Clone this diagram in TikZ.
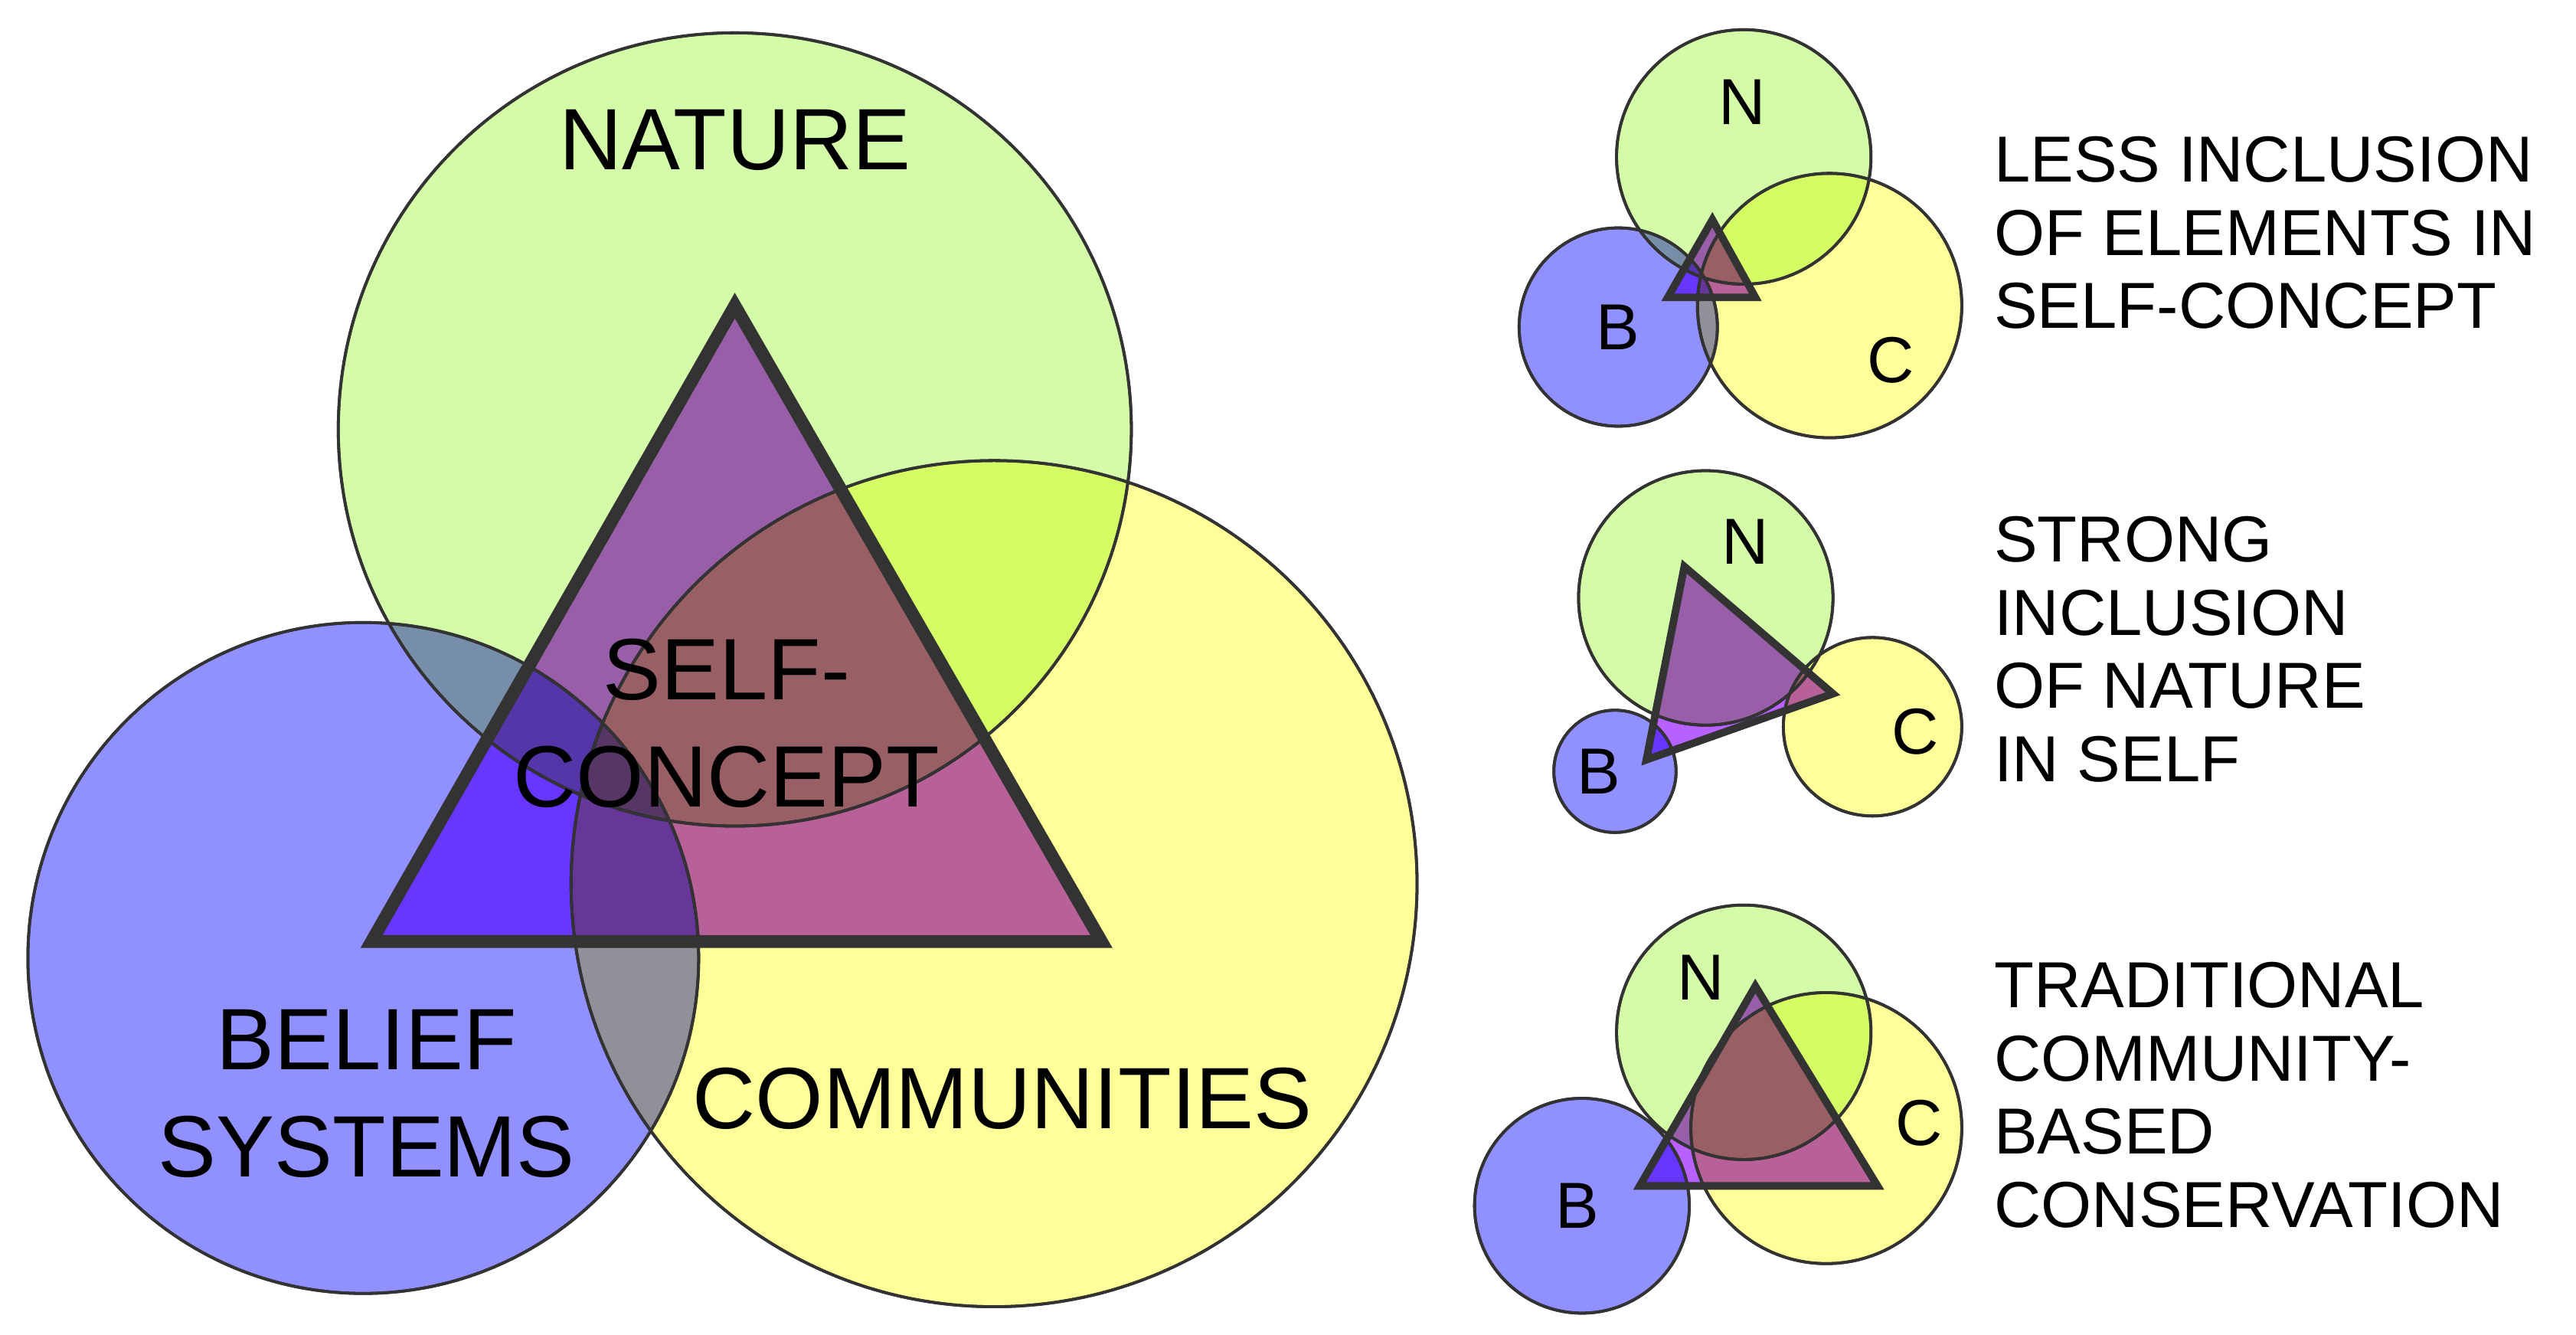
\documentclass[tikz,border=0pt]{standalone}
\usepackage{fontspec}
\setmainfont{Liberation Sans}
\usepackage{tikz}

\begin{document}
\begin{tikzpicture}
		[x=0.01cm,y=-0.01cm,line join=miter,
		%Styles
		ring/.style={draw=black!80,line width=0.5pt},
		nature/.style={ring,fill=natcol},
		belief/.style={ring,fill=belcol},
		community/.style={ring,fill=comcol},
		self/.style={fill=selfcol},
		self line/.style={draw=black!80,line width=#1},
		big text/.style={font=\fontsize{15}{18.5}\selectfont,align=center},
		small text/.style={font=\fontsize{11.2}{12.6}\selectfont},
		side text/.style={font=\fontsize{11.2}{12.6}\selectfont,align=left,anchor=north west,inner sep=0pt}
		]
		
		%Colors
		\definecolor{natcol}{HTML}{D4FCA8}
		\definecolor{belcol}{HTML}{9090FF}
		\definecolor{comcol}{HTML}{FFFF99}
		\definecolor{selfcol}{HTML}{B861FF}
		
		\useasboundingbox (0,0) rectangle (1560,808);
		
		%The big diagram
		\begin{scope}[blend group=multiply]
			\fill[nature] (445,260) circle (2.40cm);
			\fill[belief] (220,580) circle (2.03cm);
			\fill[community] (602,535) circle (2.56cm);
			\fill[self] (445,185) -- (225,570) -- (667,570) -- cycle;
		\end{scope}
		\draw[nature,fill=none] (445,260) circle (2.40cm);
		\draw[belief,fill=none] (220,580) circle (2.03cm);
		\draw[community,fill=none] (602,535) circle (2.56cm);
		\draw[self line=2.2pt] (445,185) -- (225,570) -- (667,570) -- cycle;
		
		\node[big text] (nature) at (445,85) {NATURE};
		\node[big text] (self) at (440,438) {SELF-\\CONCEPT};
		\node[big text] (belief) at (222,662) {BELIEF\\SYSTEMS};
		\node[big text] (comm) at (607,665) {COMMUNITIES};
		
		%Less inclusion
		\begin{scope}[blend group=multiply]
			\fill[nature] (1056,95) circle (0.77cm);
			\fill[belief] (980,198) circle (0.60cm);
			\fill[community] (1108,185) circle (0.80cm);
			\fill[self] (1037,133) -- (1010,180) -- (1063,180) -- cycle;
		\end{scope}
		\draw[ring] (1056,95) circle (0.77cm) (980,198) circle (0.60cm) (1108,185) circle (0.80cm);
		\draw[self line=1.3pt] (1037,133) -- (1010,180) -- (1063,180) -- cycle;
		\node[small text] (n1) at (1055,62) {N};
		\node[small text] (b1) at (980,198) {B};
		\node[small text] (c1) at (1145,218) {C};
		\node[side text] (t1) at (1207,82) {LESS INCLUSION\\OF ELEMENTS IN\\SELF-CONCEPT};
		
		%Strong inclusion
		\begin{scope}[blend group=multiply]
			\fill[nature] (1033,362) circle (0.77cm);
			\fill[belief] (978,467) circle (0.37cm);
			\fill[community] (1134,440) circle (0.54cm);
			\fill[self] (1020,343) -- (997,460) -- (1110,420) -- cycle;
		\end{scope}
		\draw[ring] (1033,362) circle (0.77cm) (978,467) circle (0.37cm) (1134,440) circle (0.54cm);
		\draw[self line=1.3pt] (1020,343) -- (997,460) -- (1110,420) -- cycle;
		\node[small text] (n2) at (1057,328) {N};
		\node[small text] (b2) at (968,467) {B};
		\node[small text] (c2) at (1160,443) {C};
		\node[side text] (t2) at (1207,312) {STRONG\\INCLUSION\\OF NATURE\\IN SELF};
		
		%Traditional
		\begin{scope}[blend group=multiply]
			\fill[nature] (1056,625) circle (0.77cm);
			\fill[belief] (958,730) circle (0.65cm);
			\fill[community] (1106,683) circle (0.82cm);
			\fill[self] (1063,597) -- (993,718) -- (1137,718) -- cycle;
		\end{scope}
		\draw[ring] (1056,625) circle (0.77cm) (958,730) circle (0.65cm) (1106,683) circle (0.82cm);
		\draw[self line=1.3pt] (1063,597) -- (993,718) -- (1137,718) -- cycle;
		\node[small text] (n3) at (1030,592) {N};
		\node[small text] (b3) at (955,730) {B};
		\node[small text] (c3) at (1162,680) {C};
		\node[side text] (t3) at (1207,582) {TRADITIONAL\\COMMUNITY-\\BASED\\CONSERVATION};
	\end{tikzpicture}
\end{document}
